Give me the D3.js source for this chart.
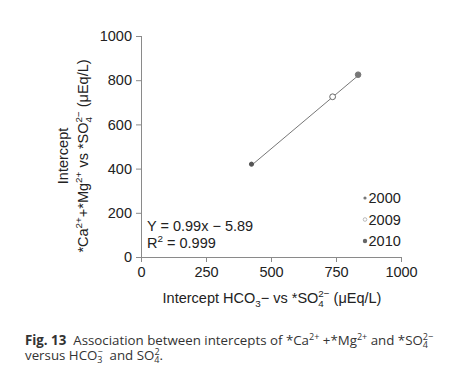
<!DOCTYPE html>
<html>
<head>
<meta charset="utf-8">
<script src="https://cdn.jsdelivr.net/npm/d3@7"></script>
<style>
  body { margin: 0; background: #fff; }
  svg text { font-family: "Liberation Sans", Arial, sans-serif; fill: #222; white-space: pre; }
  .caption text { font-family: "Open Sans", "Noto Sans", sans-serif; fill: #333; }
  .axis path, .axis line { stroke: #8a8a8a; stroke-width: 1; }
</style>
</head>
<body>
<div id="chart"></div>
<script>
// data
var years = ["2000", "2009", "2010"];
var xValues = [425, 737, 835];   // Intercept HCO3- vs *SO4 2-
var yValues = [420, 725, 825];   // Intercept *Ca2+ + *Mg2+ vs *SO4 2-
var xTicks = [0, 250, 500, 750, 1000];
var yTicks = [0, 200, 400, 600, 800, 1000];
var slope = 0.99, intercept = -5.89, r2 = 0.999;

var width = 466, height = 384;
var x = d3.scaleLinear().domain([0, 1000]).range([141, 401]);
var y = d3.scaleLinear().domain([0, 1000]).range([257, 36]);

var svg = d3.select('#chart').append('svg')
    .attr('width', width)
    .attr('height', height);

// write text with sub / superscripts; parts = [[string, 'sup'|'sub'|'stack'|null]]
function richText(sel, parts, size) {
    var small = size * 0.68;
    var shift = 0; // current baseline offset to undo on the next normal part
    parts.forEach(function(p) {
        var t = p[0], kind = p[1];
        if (!kind) {
            sel.append('tspan').attr('font-size', size).attr('dy', -shift).text(t);
            shift = 0;
        } else if (kind == 'sup') {
            sel.append('tspan').attr('font-size', small).attr('dy', -size * 0.38 - shift).text(t);
            shift = -size * 0.38;
        } else if (kind == 'sub') {
            sel.append('tspan').attr('font-size', small).attr('dy', size * 0.25 - shift).text(t);
            shift = size * 0.25;
        } else if (kind == 'stack') {
            // subscript t[0] with superscript t[1] above it
            sel.append('tspan').attr('font-size', small).attr('dy', size * 0.25 - shift).text(t[0]);
            sel.append('tspan').attr('font-size', small).attr('dy', -size * 0.63)
                .attr('dx', -small * 0.56).text(t[1]);
            shift = -size * 0.38;
        }
    });
    return sel;
}

// axes
var xAxis = svg.append('g')
    .attr('class', 'axis')
    .attr('transform', 'translate(0,' + y(0) + ')')
    .call(d3.axisBottom(x).tickValues(xTicks).tickFormat(d3.format('d'))
        .tickSize(5).tickSizeOuter(0).tickPadding(5));
xAxis.selectAll('text').attr('font-size', 14.5).attr('fill', '#222')
    .attr('font-family', '"Liberation Sans", Arial, sans-serif');

var yAxis = svg.append('g')
    .attr('class', 'axis')
    .attr('transform', 'translate(' + x(0) + ',0)')
    .call(d3.axisLeft(y).tickValues(yTicks).tickFormat(d3.format('d'))
        .tickSize(5).tickSizeOuter(0).tickPadding(4));
yAxis.select('.domain').attr('d', 'M0.5,' + (y(1000)) + 'V' + (y(0) + 4));
yAxis.selectAll('text').attr('font-size', 14.5).attr('fill', '#222')
    .attr('font-family', '"Liberation Sans", Arial, sans-serif');

// axis titles
var xt = svg.append('text')
    .attr('x', (x(0) + x(1000)) / 2 + 1)
    .attr('y', 303)
    .attr('text-anchor', 'middle')
    .attr('font-size', 14.5);
richText(xt, [['Intercept HCO'], ['3', 'sub'], ['\u2212 vs *SO'], [['4', '2\u2212'], 'stack'], [' (\u03bcEq/L)']], 14.5);

var yt = svg.append('g').attr('transform', 'translate(0,156) rotate(-90)');
yt.append('text').attr('x', 0).attr('y', 68).attr('text-anchor', 'middle')
    .attr('font-size', 14.5).text('Intercept');
var yt2 = yt.append('text').attr('x', 0).attr('y', 88).attr('text-anchor', 'middle')
    .attr('font-size', 14.5);
richText(yt2, [['*Ca'], ['2+', 'sup'], ['+*Mg'], ['2+', 'sup'], [' vs *SO'], [['4', '2\u2212'], 'stack'], [' (\u03bcEq/L)']], 14.5);

// fitted line
var xLine = [d3.min(xValues), d3.max(xValues)];
svg.append('line')
    .attr('x1', x(xLine[0])).attr('y1', y(slope * xLine[0] + intercept))
    .attr('x2', x(xLine[1])).attr('y2', y(slope * xLine[1] + intercept))
    .attr('stroke', '#777').attr('stroke-width', 1);

// points
var styles = {
    '2000': {r: 2.1, fill: '#555', stroke: '#555'},
    '2009': {r: 2.9, fill: '#fff', stroke: '#666'},
    '2010': {r: 2.8, fill: '#777', stroke: '#777'}
};
svg.selectAll('.pt')
    .data(years)
    .enter().append('circle')
    .attr('class', 'pt')
    .attr('cx', function(d, i) { return x(xValues[i]); })
    .attr('cy', function(d, i) { return y(yValues[i]); })
    .attr('r', function(d) { return styles[d].r; })
    .attr('fill', function(d) { return styles[d].fill; })
    .attr('stroke', function(d) { return styles[d].stroke; })
    .attr('stroke-width', 1);

// equation
svg.append('text').attr('x', 147).attr('y', 231).attr('font-size', 14.5)
    .text('Y = ' + slope + 'x \u2212 ' + Math.abs(intercept));
var r2t = svg.append('text').attr('x', 147).attr('y', 248).attr('font-size', 14.5);
richText(r2t, [['R'], ['2', 'sup'], [' = ' + r2]], 14.5);

// legend
var legendStyles = {
    '2000': {r: 1.6, fill: '#777', stroke: 'none'},
    '2009': {r: 1.8, fill: '#fff', stroke: '#aaa'},
    '2010': {r: 2.2, fill: '#666', stroke: 'none'}
};
var legend = svg.append('g').attr('transform', 'translate(365,198)');
var li = legend.selectAll('g')
    .data(years)
    .enter().append('g')
    .attr('transform', function(d, i) { return 'translate(0,' + (i * 21.5) + ')'; });
li.append('circle')
    .attr('r', function(d) { return legendStyles[d].r; })
    .attr('fill', function(d) { return legendStyles[d].fill; })
    .attr('stroke', function(d) { return legendStyles[d].stroke; })
    .attr('stroke-width', 0.8);
li.append('text')
    .attr('x', 3.5).attr('dy', '0.36em')
    .attr('font-size', 14.5)
    .text(function(d) { return d; });

// caption
var cap = svg.append('g').attr('class', 'caption');
var c1 = cap.append('text').attr('x', 25).attr('y', 345).attr('font-size', 13.3);
c1.append('tspan').attr('font-weight', 'bold').text('Fig. 13');
richText(c1, [['  Association between intercepts of *Ca'], ['2+', 'sup'], [' +*Mg'], ['2+', 'sup'], [' and *SO'], [['4', '2\u2212'], 'stack']], 13.3);
var c2 = cap.append('text').attr('x', 25).attr('y', 360).attr('font-size', 13.3);
richText(c2, [['versus HCO'], [['3', '\u2212'], 'stack'], ['  and SO'], [['4', '2'], 'stack'], ['.']], 13.3);
</script>
</body>
</html>
